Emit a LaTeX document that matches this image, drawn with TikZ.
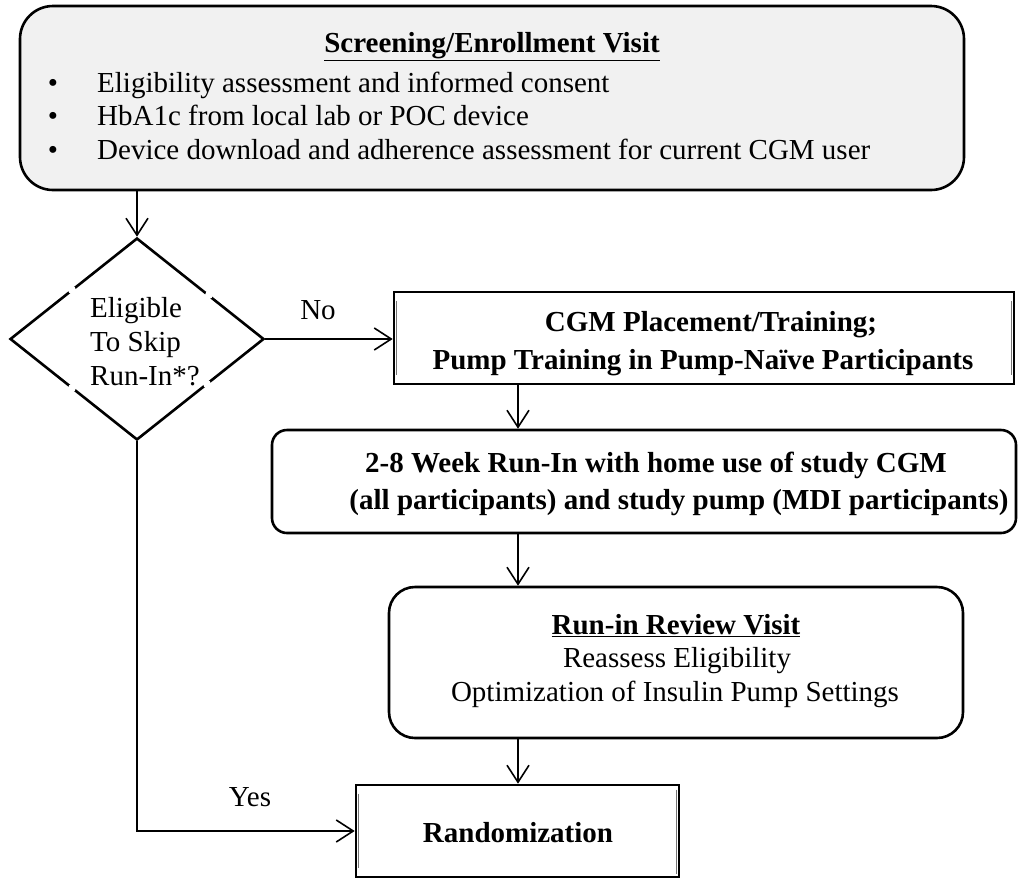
\documentclass[tikz,border=0pt]{standalone}
\usepackage{fontspec}
\setmainfont{Liberation Serif}
\usetikzlibrary{shapes.geometric,arrows.meta}
\definecolor{boxgray}{RGB}{241,241,241}
\begin{document}
\begin{tikzpicture}[x=1pt,y=-1pt,
  box/.style={draw=black, line width=2.6pt, inner sep=0pt},
  conn/.style={draw=black, line width=1.6pt, -{Straight Barb[length=17pt,width=22pt,line width=1.6pt]}},
  inner/.style={draw=black!55, line width=1.2pt},
  gap/.style={fill=white},
  txt/.style={inner sep=0pt, font=\fontsize{29}{33.5}\selectfont},
  btxt/.style={inner sep=0pt, font=\fontsize{29}{33.5}\selectfont\bfseries},
]
\useasboundingbox (0,0) rectangle (1034,879);

% boxes
\node[box, rounded corners=33pt, fill=boxgray, minimum width=944pt, minimum height=184pt] (screen) at (492,98) {};
\node[box, diamond, minimum width=254pt, minimum height=202pt] (dia) at (137,339) {};
\node[box, rectangle, minimum width=620pt, minimum height=92pt] (cgm) at (704,338) {};
\node[box, rounded corners=15pt, minimum width=744pt, minimum height=103pt] (runin) at (644,481.5) {};
\node[box, rounded corners=26pt, minimum width=574pt, minimum height=151pt] (review) at (676,662.5) {};
\node[box, rectangle, minimum width=323pt, minimum height=92pt] (rand) at (517.5,831) {};

% faint inner edges of the two rectangles and breaks in the diamond outline
\draw[inner] ([xshift=3.5pt,yshift=-10pt]cgm.north west) -- ([xshift=3.5pt,yshift=10pt]cgm.south west);
\draw[inner] ([xshift=-3.5pt,yshift=-10pt]cgm.north east) -- ([xshift=-3.5pt,yshift=10pt]cgm.south east);
\draw[inner] ([xshift=3.5pt,yshift=-10pt]rand.north west) -- ([xshift=3.5pt,yshift=10pt]rand.south west);
\draw[inner] ([xshift=-3.5pt,yshift=-6pt]rand.north east) -- ([xshift=-3.5pt,yshift=4pt]rand.south east);
\fill[gap] (72,290) circle (4pt);
\fill[gap] (209,295) circle (4pt);
\fill[gap] (72,388) circle (4pt);
\fill[gap] (207,384) circle (4pt);

% texts of the screening box
\node[btxt, anchor=base] (screenT) at (492,52) {\underline{Screening/Enrollment Visit}};
\node[txt, anchor=base] (b1) at (53,92) {•};
\node[txt, anchor=base] (b2) at (53,125) {•};
\node[txt, anchor=base] (b3) at (53,159) {•};
\node[txt, anchor=base west] (s1) at (97,92) {Eligibility assessment and informed consent};
\node[txt, anchor=base west] (s2) at (97,125) {HbA1c from local lab or POC device};
\node[txt, anchor=base west] (s3) at (97,159) {Device download and adherence assessment for current CGM user};

% diamond text
\node[txt, anchor=base west] (d1) at (90,317) {Eligible};
\node[txt, anchor=base west] (d2) at (90,351) {To Skip};
\node[txt, anchor=base west] (d3) at (90,385) {Run-In*?};

% CGM text
\node[btxt, anchor=base] (c1) at (711,331) {CGM Placement/Training;};
\node[btxt, anchor=base] (c2) at (703,369) {Pump Training in Pump-Naïve Participants};

% run-in text
\node[btxt, anchor=base] (r1) at (656,472) {2-8 Week Run-In with home use of study CGM};
\node[btxt, anchor=base] (r2) at (679,509) {(all participants) and study pump (MDI participants)};

% review text
\node[btxt, anchor=base] (v1) at (676,634) {\underline{Run-in Review Visit}};
\node[txt, anchor=base] (v2) at (677,667) {Reassess Eligibility};
\node[txt, anchor=base] (v3) at (675,701) {Optimization of Insulin Pump Settings};

% randomization text
\node[btxt, anchor=base] (rt) at (518,842) {Randomization};

% labels
\node[txt, anchor=base] (no) at (318,319) {No};
\node[txt, anchor=base] (yes) at (250,806) {Yes};

% connectors
\coordinate (ax) at (518,0);
\draw[conn] (dia.north |- screen.south) -- (dia.north);
\draw[conn] (dia.east) -- (cgm.west |- dia.east);
\draw[conn] (ax |- cgm.south) -- (ax |- runin.north);
\draw[conn] (ax |- runin.south) -- (ax |- review.north);
\draw[conn] (ax |- review.south) -- (ax |- rand.north);
\draw[conn] (dia.south) |- (rand.west);
\end{tikzpicture}
\end{document}
